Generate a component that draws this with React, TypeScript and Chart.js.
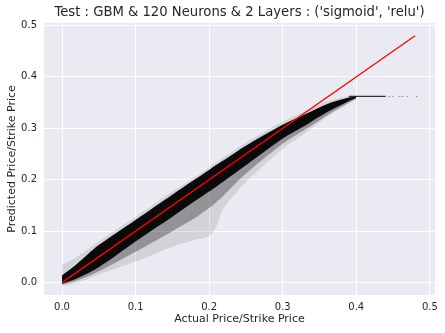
import React, { useEffect, useRef } from "react";
import { Chart, registerables } from "chart.js";

Chart.register(...registerables);

const TITLE = "Test : GBM & 120 Neurons & 2 Layers : ('sigmoid', 'relu')";
const X_LABEL = "Actual Price/Strike Price";
const Y_LABEL = "Predicted Price/Strike Price";

const xTicks = [0, 0.1, 0.2, 0.3, 0.4, 0.5];
const yTicks = [0, 0.1, 0.2, 0.3, 0.4, 0.5];

// envelope of the point cloud
const bandX = [0, 0.02, 0.05, 0.1, 0.15, 0.18, 0.2, 0.21, 0.22, 0.25, 0.3, 0.33, 0.36, 0.39, 0.4];
const fringeUpper = [0.035, 0.05, 0.08, 0.128, 0.177, 0.205, 0.224, 0.234, 0.244, 0.272, 0.313, 0.333, 0.352, 0.363, 0.364];
const coreUpper = [0.014, 0.036, 0.073, 0.122, 0.171, 0.2, 0.219, 0.229, 0.238, 0.266, 0.307, 0.327, 0.347, 0.36, 0.362];
const coreLower = [-0.002, 0.008, 0.03, 0.08, 0.128, 0.158, 0.177, 0.187, 0.197, 0.228, 0.28, 0.305, 0.331, 0.353, 0.359];
const midLower = [-0.004, 0.004, 0.022, 0.06, 0.1, 0.125, 0.145, 0.157, 0.17, 0.212, 0.27, 0.297, 0.325, 0.35, 0.358];
const fringeLower = [-0.006, 0.0, 0.016, 0.041, 0.07, 0.083, 0.09, 0.11, 0.145, 0.195, 0.26, 0.29, 0.322, 0.348, 0.356];

// saturated tail
const tailX = [0.39, 0.44];
const tailY = [0.362, 0.362];
const tailDotsX = [0.445, 0.45, 0.459, 0.463, 0.469, 0.482];
const tailDotsY = [0.362, 0.362, 0.362, 0.362, 0.362, 0.362];

// identity line
const refX = [0, 0.48];
const refY = [0, 0.48];

const FONT = "'DejaVu Sans', sans-serif";
const TEXT = "#262626";

const pts = (xs: number[], ys: number[]) => xs.map((x, i) => ({ x, y: ys[i] }));

export default function App() {
  const ref = useRef<HTMLCanvasElement | null>(null);
  useEffect(() => {
    if (!ref.current) return;
    const band = (data: number[], fill: any, bg: string, order: number) => ({
      data: pts(bandX, data),
      showLine: true,
      borderWidth: 0,
      borderColor: "rgba(0,0,0,0)",
      pointRadius: 0,
      backgroundColor: bg,
      fill,
      order,
      tension: 0.3,
    });
    const chart = new Chart(ref.current, {
      type: "scatter",
      data: {
        datasets: [
          {
            data: pts(refX, refY),
            showLine: true,
            borderColor: "#ff0000",
            borderWidth: 1.3,
            pointRadius: 0,
            order: 0,
          } as any,
          {
            data: pts(tailX, tailY),
            showLine: true,
            borderColor: "rgba(20,20,20,0.85)",
            borderWidth: 1.3,
            pointRadius: 0,
            order: 1,
          },
          {
            data: pts(tailDotsX, tailDotsY),
            pointRadius: 0.7,
            pointBorderWidth: 0,
            backgroundColor: "rgba(0,0,0,0.45)",
            order: 1,
          },
          band(coreUpper, 4, "rgba(0,0,0,0.93)", 2),
          band(coreLower, false, "rgba(0,0,0,0)", 5),
          band(coreUpper, 6, "rgba(0,0,0,0.3)", 3),
          band(midLower, false, "rgba(0,0,0,0)", 5),
          band(fringeUpper, 8, "rgba(0,0,0,0.1)", 4),
          band(fringeLower, false, "rgba(0,0,0,0)", 5),
        ],
      },
      options: {
        animation: false,
        responsive: false,
        devicePixelRatio: 1,
        layout: { padding: { left: 0, right: 10, top: 0, bottom: 0 } },
        plugins: {
          legend: { display: false },
          tooltip: { enabled: false },
          title: {
            display: true,
            text: TITLE,
            fullSize: false,
            color: TEXT,
            font: { family: FONT, size: 13.2, weight: "normal" },
            padding: { top: 5, bottom: 2 },
          },
        },
        scales: {
          x: {
            type: "linear",
            min: -0.0245,
            max: 0.507,
            afterBuildTicks: (s: any) => {
              s.ticks = xTicks.map((v) => ({ value: v }));
            },
            afterFit: (s: any) => {
              s.height = 38;
            },
            grid: { color: "#ffffff", lineWidth: 1, drawTicks: false },
            border: { display: false },
            ticks: {
              color: TEXT,
              padding: 6,
              font: { family: FONT, size: 10 },
              callback: (v: any) => Number(v).toFixed(1),
            },
            title: {
              display: true,
              text: X_LABEL,
              color: TEXT,
              font: { family: FONT, size: 11 },
              padding: { top: 0, bottom: 7 },
            },
          },
          y: {
            type: "linear",
            min: -0.024,
            max: 0.505,
            afterBuildTicks: (s: any) => {
              s.ticks = yTicks.map((v) => ({ value: v }));
            },
            afterFit: (s: any) => {
              s.width = 44;
            },
            grid: { color: "#ffffff", lineWidth: 1, drawTicks: false },
            border: { display: false },
            ticks: {
              color: TEXT,
              padding: 7,
              font: { family: FONT, size: 10 },
              callback: (v: any) => Number(v).toFixed(1),
            },
            title: {
              display: true,
              text: Y_LABEL,
              color: TEXT,
              font: { family: FONT, size: 11 },
              padding: { top: 6, bottom: 0 },
            },
          },
        },
      },
      plugins: [
        {
          id: "bg",
          beforeDraw: (c: any) => {
            const { ctx, chartArea: a } = c;
            ctx.save();
            ctx.fillStyle = "#ffffff";
            ctx.fillRect(0, 0, c.width, c.height);
            ctx.fillStyle = "#eaeaf2";
            ctx.fillRect(a.left, a.top, a.right - a.left, a.bottom - a.top);
            ctx.restore();
          },
        },
      ],
    } as any);
    return () => chart.destroy();
  }, []);
  return (
    <div style={{ position: "fixed", left: 0, top: 0, width: 445, height: 333, background: "#fff" }}>
      <canvas ref={ref} width={445} height={333} style={{ display: "block" }} />
    </div>
  );
}
